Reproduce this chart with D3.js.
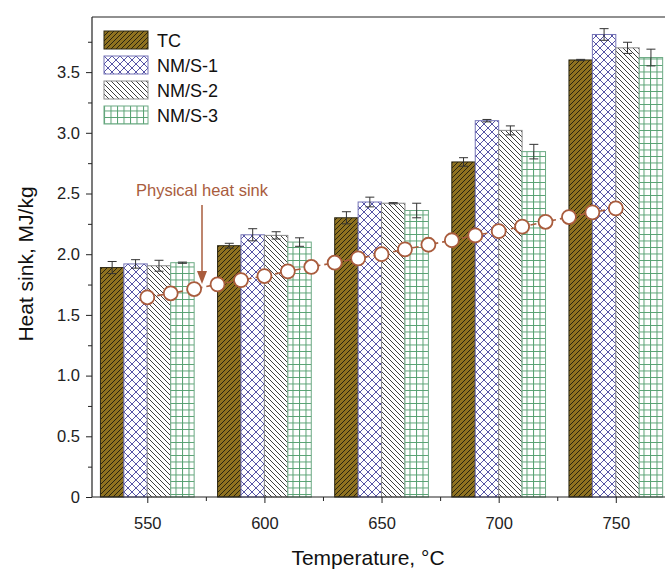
<!DOCTYPE html>
<html><head><meta charset="utf-8">
<script src="https://cdn.jsdelivr.net/npm/d3@7/dist/d3.min.js"></script>
<style>
html,body{margin:0;padding:0;background:#fff;overflow:hidden}
svg{display:block;font-family:Arial,"Liberation Sans",sans-serif}
</style></head>
<body>
<svg id="c" width="665" height="569"></svg>
<script>
// ---- data ----
const temps = [550, 600, 650, 700, 750];
const seriesNames = ["TC", "NM/S-1", "NM/S-2", "NM/S-3"];
const tcVals   = [1.89, 2.07, 2.30, 2.76, 3.60];
const nms1Vals = [1.92, 2.16, 2.43, 3.10, 3.81];
const nms2Vals = [1.905, 2.155, 2.42, 3.02, 3.70];
const nms3Vals = [1.93, 2.10, 2.36, 2.845, 3.62];
const tcErr   = [0.05, 0.02, 0.05, 0.035, 0.005];
const nms1Err = [0.035, 0.05, 0.04, 0.01, 0.048];
const nms2Err = [0.045, 0.03, 0.005, 0.037, 0.046];
const nms3Err = [0.005, 0.035, 0.06, 0.06, 0.069];
const physTemps = [550, 560, 570, 580, 590, 600, 610, 620, 630, 640, 650, 660, 670, 680, 690, 700, 710, 720, 730, 740, 750];
const physVals  = [1.645, 1.678, 1.713, 1.752, 1.787, 1.82, 1.859, 1.895, 1.93, 1.966, 2.0, 2.04, 2.078, 2.115, 2.155, 2.19, 2.227, 2.267, 2.306, 2.345, 2.378];
const yTickVals = [0, 0.5, 1.0, 1.5, 2.0, 2.5, 3.0, 3.5];
const yTickLabels = ["0", "0.5", "1.0", "1.5", "2.0", "2.5", "3.0", "3.5"];
const yMinorVals = [0.25, 0.75, 1.25, 1.75, 2.25, 2.75, 3.25, 3.75];
const xTickLabels = ["550", "600", "650", "700", "750"];
const xMinorVals = [575, 625, 675, 725];

const allVals = [tcVals, nms1Vals, nms2Vals, nms3Vals];
const allErr = [tcErr, nms1Err, nms2Err, nms3Err];

// ---- layout ----
const svg = d3.select("#c");
const mLeft = 92, mBottom = 497, mTop = 17, mRight = 665;
const x = d3.scaleLinear().domain([526.4, 771]).range([mLeft, mRight]);
const y = d3.scaleLinear().domain([0, 3.954]).range([mBottom, mTop]);

// ---- patterns ----
const defs = svg.append("defs");
const pTC = defs.append("pattern").attr("id", "pTC").attr("patternUnits", "userSpaceOnUse").attr("width", 5).attr("height", 5);
pTC.append("rect").attr("width", 5).attr("height", 5).attr("fill", "#8f7220");
pTC.append("path").attr("d", "M-1,1 L1,-1 M0,5 L5,0 M4,6 L6,4").attr("stroke", "#1c1a10").attr("stroke-width", 0.9);

const p1 = defs.append("pattern").attr("id", "p1").attr("patternUnits", "userSpaceOnUse").attr("width", 8).attr("height", 8);
p1.append("rect").attr("width", 8).attr("height", 8).attr("fill", "#fff");
p1.append("path").attr("d", "M0,0 L8,8 M8,0 L0,8").attr("stroke", "#5654a6").attr("stroke-width", 1);

const p2 = defs.append("pattern").attr("id", "p2").attr("patternUnits", "userSpaceOnUse").attr("width", 5).attr("height", 5);
p2.append("rect").attr("width", 5).attr("height", 5).attr("fill", "#fff");
p2.append("path").attr("d", "M-1,4 L1,6 M0,0 L5,5 M4,-1 L6,1").attr("stroke", "#2a2a2a").attr("stroke-width", 0.9);

const p3 = defs.append("pattern").attr("id", "p3").attr("patternUnits", "userSpaceOnUse").attr("width", 6.5).attr("height", 6.5);
p3.append("rect").attr("width", 6.5).attr("height", 6.5).attr("fill", "#fff");
p3.append("path").attr("d", "M0,0.5 L6.5,0.5 M0.5,0 L0.5,6.5").attr("stroke", "#55a070").attr("stroke-width", 1);

const fills = ["url(#pTC)", "url(#p1)", "url(#p2)", "url(#p3)"];
const borders = ["#2b2610", "#7473b6", "#8a8a8a", "#6caa84"];

// ---- bars ----
const gBars = svg.append("g");
temps.forEach((t, ti) => {
  seriesNames.forEach((s, si) => {
    const x0 = x(t - 20 + 10 * si), x1 = x(t - 10 + 10 * si);
    const v = allVals[si][ti];
    gBars.append("rect")
      .attr("x", x0).attr("y", y(v))
      .attr("width", x1 - x0).attr("height", y(0) - y(v))
      .attr("fill", fills[si]).attr("stroke", borders[si]).attr("stroke-width", 1);
  });
});
// error bars
const gErr = svg.append("g").attr("stroke", "#333").attr("stroke-width", 1);
temps.forEach((t, ti) => {
  seriesNames.forEach((s, si) => {
    const cx = x(t - 15 + 10 * si);
    const v = allVals[si][ti], e = allErr[si][ti];
    gErr.append("line").attr("x1", cx).attr("x2", cx).attr("y1", y(v + e)).attr("y2", y(v - e));
    gErr.append("line").attr("x1", cx - 4.5).attr("x2", cx + 4.5).attr("y1", y(v + e)).attr("y2", y(v + e));
    gErr.append("line").attr("x1", cx - 4.5).attr("x2", cx + 4.5).attr("y1", y(v - e)).attr("y2", y(v - e));
  });
});

// ---- physical heat sink line ----
const brown = "#a95c3d";
const line = d3.line().x((d, i) => x(physTemps[i])).y(d => y(d));
svg.append("path").datum(physVals).attr("d", line)
  .attr("fill", "none").attr("stroke", brown).attr("stroke-width", 1.6).attr("stroke-dasharray", "6,4");
svg.append("g").selectAll("circle").data(physVals).join("circle")
  .attr("cx", (d, i) => x(physTemps[i])).attr("cy", d => y(d)).attr("r", 7)
  .attr("fill", "#fff").attr("stroke", brown).attr("stroke-width", 1.8);

// annotation
svg.append("text").attr("x", 202).attr("y", 196).attr("text-anchor", "middle")
  .attr("font-size", 16.5).attr("fill", brown).text("Physical heat sink");
svg.append("line").attr("x1", 202).attr("x2", 202).attr("y1", 205).attr("y2", 272)
  .attr("stroke", brown).attr("stroke-width", 1.5);
svg.append("path").attr("d", "M197,271 L207,271 L202,284 Z").attr("fill", brown);

// ---- axes ----
const axisColor = "#222";
const yAxis = d3.axisLeft(y).tickValues(yTickVals).tickFormat((d, i) => yTickLabels[i]).tickSize(6).tickPadding(6);
const gy = svg.append("g").attr("transform", `translate(${mLeft},0)`).call(yAxis);
gy.select(".domain").remove();
gy.selectAll("text").attr("font-size", 16.5).attr("fill", axisColor).attr("font-family", "Arial, 'Liberation Sans', sans-serif");
gy.selectAll("line").attr("stroke", axisColor);
const yMinor = d3.axisLeft(y).tickValues(yMinorVals).tickFormat("").tickSize(4);
const gym = svg.append("g").attr("transform", `translate(${mLeft},0)`).call(yMinor);
gym.select(".domain").remove();
gym.selectAll("line").attr("stroke", axisColor);

const xAxis = d3.axisBottom(x).tickValues(temps).tickFormat((d, i) => xTickLabels[i]).tickSize(6).tickPadding(14);
const gx = svg.append("g").attr("transform", `translate(0,${mBottom})`).call(xAxis);
gx.select(".domain").remove();
gx.selectAll("text").attr("font-size", 16.5).attr("fill", axisColor).attr("font-family", "Arial, 'Liberation Sans', sans-serif");
gx.selectAll("line").attr("stroke", axisColor);
const xMinor = d3.axisBottom(x).tickValues(xMinorVals).tickFormat("").tickSize(4);
const gxm = svg.append("g").attr("transform", `translate(0,${mBottom})`).call(xMinor);
gxm.select(".domain").remove();
gxm.selectAll("line").attr("stroke", axisColor);

// frame lines
svg.append("line").attr("x1", mLeft).attr("x2", mRight).attr("y1", mBottom).attr("y2", mBottom).attr("stroke", axisColor).attr("stroke-width", 1.2);
svg.append("line").attr("x1", mLeft).attr("x2", mLeft).attr("y1", mTop).attr("y2", mBottom).attr("stroke", axisColor).attr("stroke-width", 1.2);
svg.append("line").attr("x1", mLeft).attr("x2", mRight).attr("y1", mTop).attr("y2", mTop).attr("stroke", axisColor).attr("stroke-width", 1.2);

// axis titles
svg.append("text").attr("x", 368).attr("y", 565).attr("text-anchor", "middle")
  .attr("font-size", 21).attr("fill", "#111").text("Temperature, °C");
svg.append("text").attr("transform", "translate(33,264) rotate(-90)").attr("text-anchor", "middle")
  .attr("font-size", 21).attr("fill", "#111").text("Heat sink, MJ/kg");

// ---- legend ----
const lg = svg.append("g");
seriesNames.forEach((s, i) => {
  const yy = 31 + 25 * i;
  lg.append("rect").attr("x", 104).attr("y", yy).attr("width", 44).attr("height", 18)
    .attr("fill", fills[i]).attr("stroke", borders[i]).attr("stroke-width", 1);
  lg.append("text").attr("x", 157).attr("y", yy + 16).attr("font-size", 18).attr("fill", "#111").text(s);
});
</script>
</body></html>
